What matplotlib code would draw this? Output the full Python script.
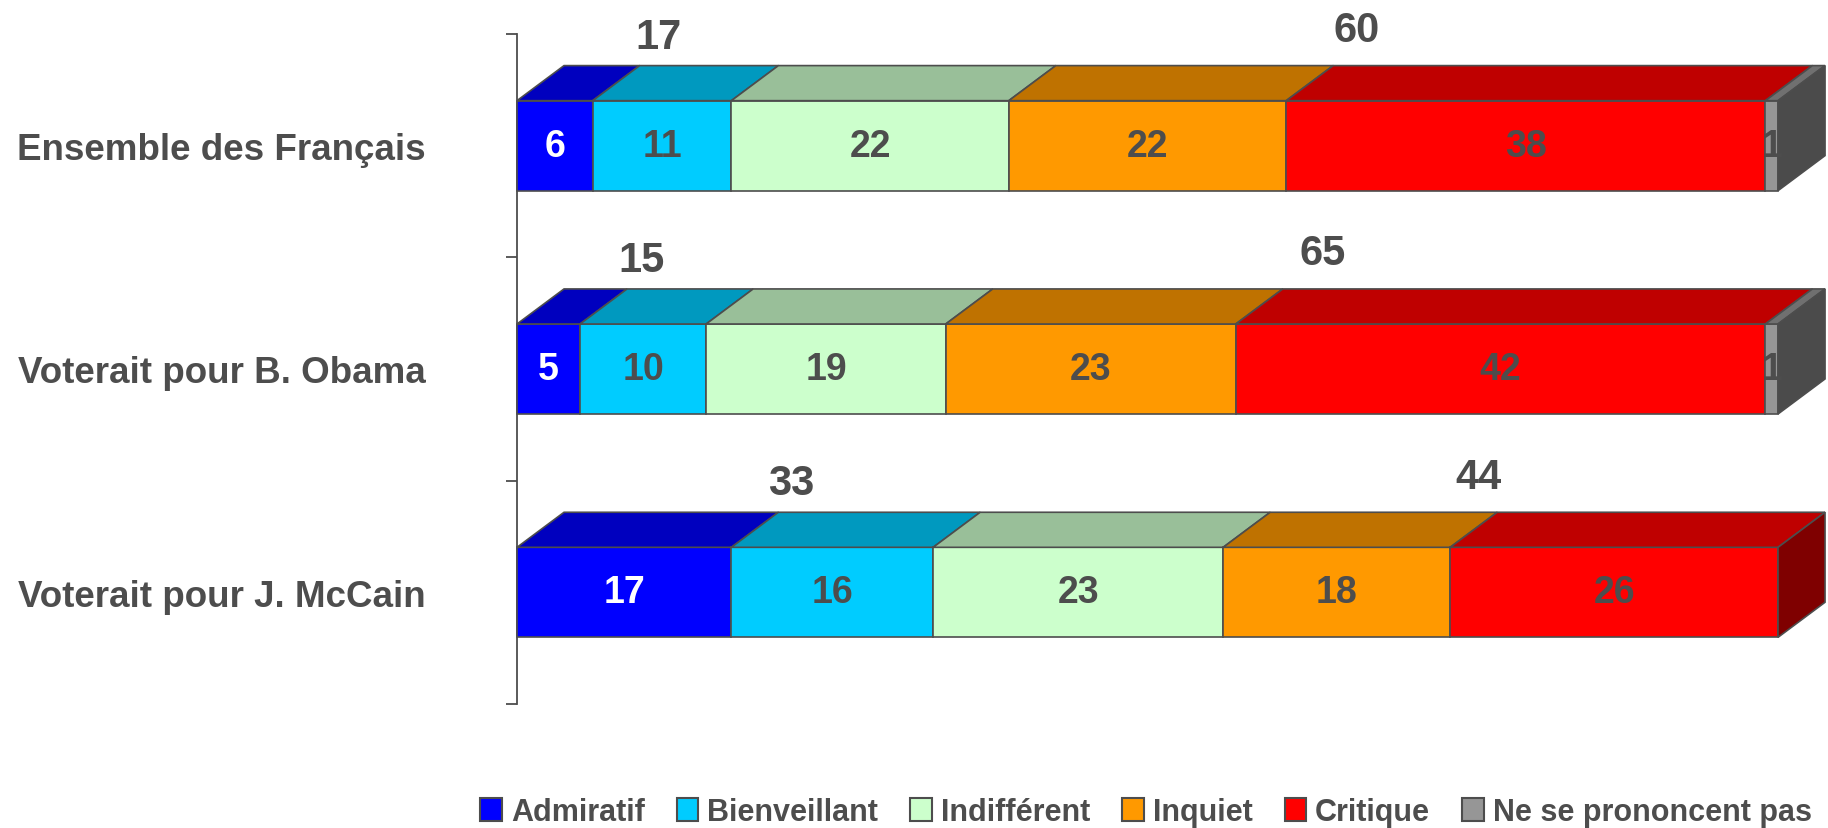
import numpy as np
import matplotlib.pyplot as plt
from matplotlib.patches import Polygon, Patch
from matplotlib import font_manager

# data (percent)
categories = ['Ensemble des Français', 'Voterait pour B. Obama', 'Voterait pour J. McCain']
series = ['Admiratif', 'Bienveillant', 'Indifférent', 'Inquiet', 'Critique', 'Ne se prononcent pas']
admiratif    = [6, 5, 17]
bienveillant = [11, 10, 16]
indifferent  = [22, 19, 23]
inquiet      = [22, 23, 18]
critique     = [38, 42, 26]
nsp          = [1, 1, 0]

front = ['#0000FF', '#00CCFF', '#CCFFCC', '#FF9900', '#FF0000', '#969696']
txtcol = ['white', '#4D4D4D', '#4D4D4D', '#4D4D4D', '#4D4D4D', '#4D4D4D']
grey = '#4D4D4D'

def shade(c, f):
    r, g, b = [int(c[i:i+2], 16) for i in (1, 3, 5)]
    return '#%02X%02X%02X' % (int(r*f), int(g*f), int(b*f))

top = [shade(c, 0.75) for c in front]
side = [shade(c, 0.5) for c in front]

names = [f.name for f in font_manager.fontManager.ttflist]
fam = 'Liberation Sans' if 'Liberation Sans' in names else 'DejaVu Sans'
plt.rcParams['font.family'] = fam
plt.rcParams['font.weight'] = 'bold'

fig = plt.figure(figsize=(18.28, 8.29), dpi=100)
ax = fig.add_axes([517/1828, 1 - 705/829, 1261/1828, 670/829])
ax.set_xlim(0, 100)
ax.set_ylim(0, 3)

data = np.array([admiratif, bienveillant, indifferent, inquiet, critique, nsp], dtype=float)
ypos = [2.5, 1.5, 0.5]
h = 0.403          # bar thickness
dx, dy = 3.73, 0.157   # 3D depth offset
lw = 1.2

for j, y in enumerate(ypos):
    yb, yt = y - h/2, y + h/2
    left = 0.0
    last = None
    for i in range(len(series)):
        v = data[i, j]
        if v <= 0:
            continue
        x0, x1 = left, left + v
        ax.add_patch(Polygon([(x0, yb), (x1, yb), (x1, yt), (x0, yt)], closed=True,
                             facecolor=front[i], edgecolor=grey, lw=lw, clip_on=False, zorder=3))
        ax.add_patch(Polygon([(x0, yt), (x1, yt), (x1+dx, yt+dy), (x0+dx, yt+dy)], closed=True,
                             facecolor=top[i], edgecolor=grey, lw=lw, clip_on=False, zorder=3))
        ax.text((x0 + x1)/2, y, '%d' % v, ha='center', va='center', fontsize=27,
                color=txtcol[i], fontweight='bold', zorder=5, clip_on=False)
        left = x1
        last = i
    ax.add_patch(Polygon([(left, yb), (left+dx, yb+dy), (left+dx, yt+dy), (left, yt)], closed=True,
                         facecolor=side[last], edgecolor=grey, lw=lw, clip_on=False, zorder=3))

    # totals above the bar
    pos = admiratif[j] + bienveillant[j]
    neg = inquiet[j] + critique[j]
    neg_start = pos + indifferent[j]
    ax.text(pos*0.66, yt + dy + 0.13, '%d' % pos, ha='center', va='center',
            fontsize=30, color=grey, fontweight='bold', clip_on=False)
    ax.text(neg_start + neg*0.46, yt + dy + 0.16, '%d' % neg, ha='center', va='center',
            fontsize=30, color=grey, fontweight='bold', clip_on=False)

# axis
for s in ['top', 'right', 'bottom']:
    ax.spines[s].set_visible(False)
ax.spines['left'].set_color(grey)
ax.spines['left'].set_linewidth(1.3)
ax.spines['left'].set_zorder(1)
ax.set_xticks([])
ax.set_yticks([0, 1, 2, 3])
ax.set_yticklabels([])
ax.tick_params(axis='y', which='major', direction='out', length=8, width=1.3, color=grey)
ax.set_yticks(ypos, categories, minor=True)
ax.tick_params(axis='y', which='minor', length=0, pad=66, labelsize=26.5, labelcolor=grey)
for t in ax.get_yticklabels(minor=True):
    t.set_fontweight('bold')

# legend
handles = [Patch(facecolor=front[i], edgecolor=grey, lw=1.5) for i in range(len(series))]
fig.legend(handles, series, ncol=6, loc='center', bbox_to_anchor=(1146/1828, 1 - 813/829),
           frameon=False, handlelength=0.7, handleheight=0.75, handletextpad=0.3,
           columnspacing=1.05, borderaxespad=0, borderpad=0,
           prop={'family': fam, 'weight': 'bold', 'size': 22}, labelcolor=grey)

fig.savefig('out.png', dpi=100)
